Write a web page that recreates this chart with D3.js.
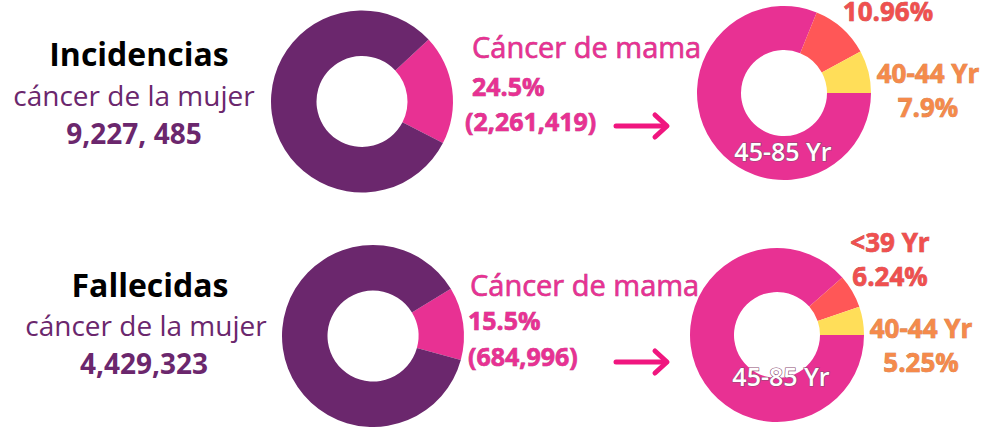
<!DOCTYPE html>
<html>
<head>
<meta charset="utf-8">
<script src="https://cdn.jsdelivr.net/npm/d3@7"></script>
<style>
  body { margin: 0; background: #fff; }
  text { font-family: "Open Sans", sans-serif; paint-order: stroke; }
</style>
</head>
<body>
<div id="chart"></div>
<script>
// data
const rowTitles = ["Incidencias", "Fallecidas"];
const rowSubtitle = "cáncer de la mujer";
const rowTotals = ["9,227, 485", "4,429,323"];
const breastLabel = "Cáncer de mama";
const breastPct = ["24.5%", "15.5%"];
const breastCount = ["(2,261,419)", "(684,996)"];
const mainCategories = ["Cáncer de mama", "Otros"];
const mainShares = [[19.5, 80.5], [12.9, 87.1]];   // as drawn in the arcs
const ageGroups = ["45-85 Yr", "<39 Yr", "40-44 Yr"];
const ageShares = [[81.14, 10.96, 7.9], [88.51, 6.24, 5.25]];
const ageTopLabels = [["10.96%"], ["<39 Yr", "6.24%"]];
const ageSideLabels = [["40-44 Yr", "7.9%"], ["40-44 Yr", "5.25%"]];

const width = 1003, height = 427;
const purple = "#6b276d", pink = "#e83193", red = "#ff5757", yellow = "#ffde59";

const svg = d3.select("#chart")
    .append("svg")
    .attr("width", width)
    .attr("height", height);

// layout of each row
const rows = [
    {lx: 362, ly: 101.5, start: 47, rx: 784, ry: 93,
     title: [139, 66], sub: [134, 106], total: [134, 144],
     midX: [472, 472, 465], midY: [58, 96, 131], arrowY: 126,
     topLbl: [888, 21], sideLbl: [928, 83], white: [783, 161]},
    {lx: 373, ly: 336, start: 58.8, rx: 777, ry: 335,
     title: [150, 297], sub: [146, 336], total: [144, 374],
     midX: [470, 468, 468], midY: [296, 330, 366], arrowY: 362,
     topLbl: [890, 252], sideLbl: [921, 338], white: [781, 386]}
];

const mainColor = d3.scaleOrdinal().domain(mainCategories).range([pink, purple]);
const ageColor = d3.scaleOrdinal().domain(ageGroups).range([pink, red, yellow]);

const mainArc = d3.arc().innerRadius(45.5).outerRadius(91);
const ageArc = d3.arc().innerRadius(43).outerRadius(87);

rows.forEach(function(r, i) {
    const g = svg.append("g");

    // left text block
    g.append("text")
        .attr("x", r.title[0]).attr("y", r.title[1])
        .attr("text-anchor", "middle")
        .style("font-size", "32px").style("font-weight", 700)
        .style("fill", "#000")
        .text(rowTitles[i]);
    g.append("text")
        .attr("x", r.sub[0]).attr("y", r.sub[1])
        .attr("text-anchor", "middle")
        .style("font-size", "28px")
        .style("fill", purple)
        .text(rowSubtitle);
    g.append("text")
        .attr("x", r.total[0]).attr("y", r.total[1])
        .attr("text-anchor", "middle")
        .style("font-size", "28px").style("font-weight", 700)
        .style("fill", purple)
        .text(rowTotals[i]);

    // main donut
    const pie = d3.pie().sort(null).value(d => d)
        .startAngle(r.start * Math.PI / 180)
        .endAngle(r.start * Math.PI / 180 + 2 * Math.PI);
    g.append("g")
        .attr("transform", "translate(" + r.lx + "," + r.ly + ")")
        .selectAll("path")
        .data(pie(mainShares[i]))
        .enter().append("path")
        .attr("d", mainArc)
        .attr("fill", (d, j) => mainColor(mainCategories[j]));

    // middle labels
    g.append("text")
        .attr("x", r.midX[0]).attr("y", r.midY[0])
        .style("font-size", "29px")
        .style("fill", pink).style("stroke", "#b02a72").style("stroke-width", 0.6)
        .text(breastLabel);
    g.append("text")
        .attr("x", r.midX[1]).attr("y", r.midY[1])
        .style("font-size", "25px").style("font-weight", 700)
        .style("fill", pink).style("stroke", "#b02a72").style("stroke-width", 0.6)
        .text(breastPct[i]);
    g.append("text")
        .attr("x", r.midX[2]).attr("y", r.midY[2])
        .style("font-size", "25px").style("font-weight", 700)
        .style("fill", pink).style("stroke", "#b02a72").style("stroke-width", 0.6)
        .text(breastCount[i]);

    // arrow
    const arrow = g.append("g")
        .attr("fill", "none")
        .attr("stroke", "#f0167f")
        .attr("stroke-width", 5)
        .attr("stroke-linecap", "round")
        .attr("stroke-linejoin", "round");
    arrow.append("line")
        .attr("x1", 616).attr("x2", 666)
        .attr("y1", r.arrowY).attr("y2", r.arrowY);
    arrow.append("path")
        .attr("d", d3.line()([[655, r.arrowY - 11], [667, r.arrowY], [655, r.arrowY + 11]]));

    // age donut
    const agePie = d3.pie().sort(null).value(d => d)
        .startAngle(Math.PI / 2)
        .endAngle(Math.PI / 2 + 2 * Math.PI);
    g.append("g")
        .attr("transform", "translate(" + r.rx + "," + r.ry + ")")
        .selectAll("path")
        .data(agePie(ageShares[i]))
        .enter().append("path")
        .attr("d", ageArc)
        .attr("fill", (d, j) => ageColor(ageGroups[j]));

    g.append("text")
        .attr("x", r.white[0]).attr("y", r.white[1])
        .attr("text-anchor", "middle")
        .style("font-size", "25px").style("font-weight", 600)
        .style("fill", "#fff").style("stroke", "#8a4a70").style("stroke-width", 1.2)
        .text(ageGroups[0]);

    g.selectAll(".toplbl")
        .data(ageTopLabels[i])
        .enter().append("text")
        .attr("x", r.topLbl[0]).attr("y", (d, j) => r.topLbl[1] + j * 34)
        .attr("text-anchor", "middle")
        .style("font-size", "26px").style("font-weight", 700)
        .style("fill", "#f0504f").style("stroke", "#b83a3a").style("stroke-width", 0.6)
        .text(d => d);

    g.selectAll(".sidelbl")
        .data(ageSideLabels[i])
        .enter().append("text")
        .attr("x", r.sideLbl[0]).attr("y", (d, j) => r.sideLbl[1] + j * 34)
        .attr("text-anchor", "middle")
        .style("font-size", "26px").style("font-weight", 700)
        .style("fill", "#f58a4b").style("stroke", "#c06a35").style("stroke-width", 0.6)
        .text(d => d);
});
</script>
</body>
</html>
